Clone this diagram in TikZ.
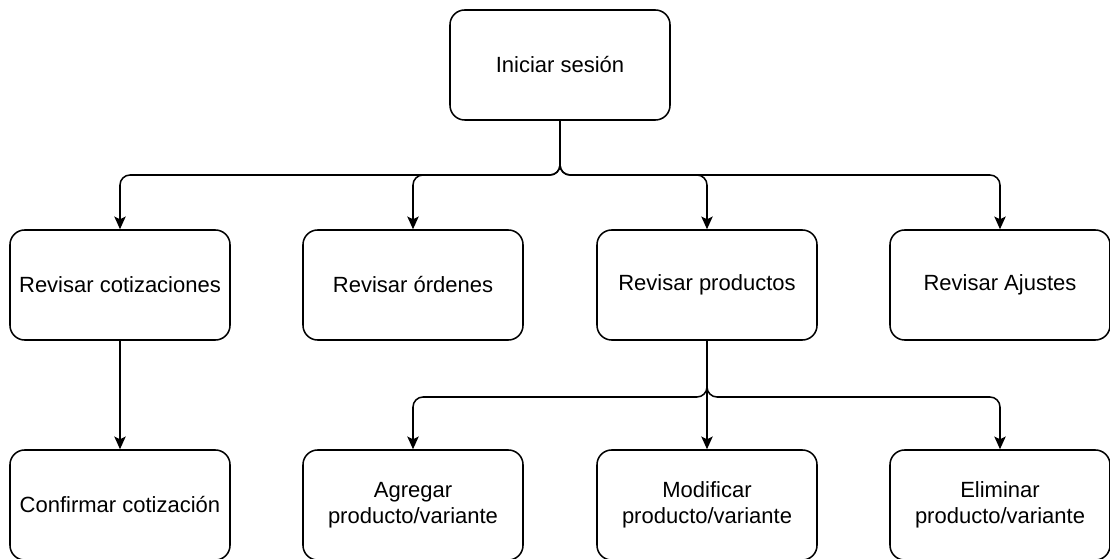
\documentclass[tikz,border=0pt]{standalone}
\usepackage{fontspec}
\setmainfont{Liberation Sans}
\usetikzlibrary{arrows.meta}
\begin{document}
\begin{tikzpicture}[x=0.75pt,y=-0.75pt,
  box/.style={draw, line width=1.15pt, rounded corners=11pt, minimum width=165pt, minimum height=82.5pt, inner sep=0pt, align=center, font=\fontsize{16.5}{19.5}\selectfont},
  conn/.style={line width=1.15pt, rounded corners=7.5pt, -{Stealth[length=9.5pt,width=8.5pt,inset=2pt]}}]
\useasboundingbox (0,0) rectangle (1110,559);
\node[box] (ini) at (560,65) {Iniciar sesión};
\node[box] (cot) at (120,285) {Revisar cotizaciones};
\node[box] (ord) at (413,285) {Revisar órdenes};
\node[box] (prod) at (707,285) {Revisar productos};
\node[box] (aju) at (1000,285) {Revisar Ajustes};
\node[box] (conf) at (120,505) {Confirmar cotización};
\node[box] (agr) at (413,505) {Agregar\\producto/variante};
\node[box] (mod) at (707,505) {Modificar\\producto/variante};
\node[box] (eli) at (1000,505) {Eliminar\\producto/variante};
\coordinate (j1) at (560,175);
\coordinate (j2) at (707,397);
\draw[conn] (ini.south) -- (j1) -| (cot.north);
\draw[conn] (ini.south) -- (j1) -| (ord.north);
\draw[conn] (ini.south) -- (j1) -| (prod.north);
\draw[conn] (ini.south) -- (j1) -| (aju.north);
\draw[conn] (cot.south) -- (conf.north);
\draw[conn] (prod.south) -- (j2) -| (agr.north);
\draw[conn] (prod.south) -- (mod.north);
\draw[conn] (prod.south) -- (j2) -| (eli.north);
\end{tikzpicture}
\end{document}
